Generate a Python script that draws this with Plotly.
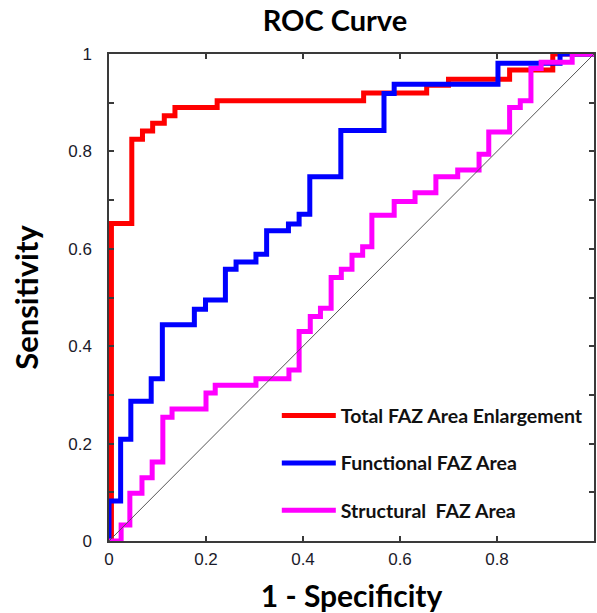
import plotly.graph_objects as go

# ---- data (step ROC curves; points are step corners) ----
total_x = [0.0, 0.005, 0.047, 0.069, 0.090, 0.114, 0.136, 0.223, 0.525, 0.655, 0.700, 0.826, 0.915, 1.0]
total_y = [0.0, 0.652, 0.825, 0.842, 0.858, 0.873, 0.890, 0.904, 0.920, 0.936, 0.948, 0.967, 1.0, 1.0]

func_x = [0.0, 0.0, 0.024, 0.045, 0.087, 0.110, 0.176, 0.199, 0.240, 0.262, 0.303, 0.325, 0.370,
          0.392, 0.414, 0.478, 0.567, 0.588, 0.802, 0.930, 1.0]
func_y = [0.0, 0.082, 0.209, 0.287, 0.333, 0.444, 0.476, 0.495, 0.558, 0.573, 0.589, 0.637, 0.651,
          0.671, 0.748, 0.843, 0.919, 0.938, 0.981, 1.0, 1.0]

struct_x = [0.0, 0.025, 0.043, 0.068, 0.089, 0.111, 0.130, 0.200, 0.219, 0.303, 0.371, 0.392, 0.415,
            0.436, 0.458, 0.479, 0.501, 0.523, 0.542, 0.588, 0.631, 0.674, 0.719, 0.763, 0.783,
            0.826, 0.848, 0.870, 0.891, 0.955, 1.0]
struct_y = [0.0, 0.033, 0.098, 0.130, 0.162, 0.254, 0.271, 0.304, 0.320, 0.333, 0.351, 0.430, 0.461,
            0.478, 0.541, 0.558, 0.587, 0.604, 0.669, 0.697, 0.715, 0.748, 0.762, 0.794, 0.840,
            0.890, 0.904, 0.970, 0.983, 1.0, 1.0]

ref_x = [0.0, 1.0]
ref_y = [0.0, 1.0]

series_names = ["Total FAZ Area Enlargement", "Functional FAZ Area", "Structural  FAZ Area"]
tick_vals = [0, 0.2, 0.4, 0.6, 0.8, 1]
tick_text = ["0", "0.2", "0.4", "0.6", "0.8", "1"]

fig = go.Figure()
for xs, ys, name, col in [(total_x, total_y, series_names[0], "#ff0000"),
                          (func_x, func_y, series_names[1], "#0000ff"),
                          (struct_x, struct_y, series_names[2], "#ff00ff")]:
    fig.add_trace(go.Scatter(x=xs, y=ys, mode="lines", name=name, legendgroup=name,
                             line=dict(color=col, width=5, shape="hv")))
fig.add_trace(go.Scatter(x=ref_x, y=ref_y, mode="lines", showlegend=False,
                         line=dict(color="#555555", width=1)))

axis_common = dict(range=[0, 1], showgrid=False, zeroline=False, showline=True,
                   linecolor="#3a3a3a", linewidth=1.5, mirror="ticks", ticks="inside",
                   ticklen=5, tickcolor="#3a3a3a", tickwidth=1.5,
                   tickvals=tick_vals, ticktext=tick_text,
                   tickfont=dict(family="Liberation Sans", size=17, color="#1a1a2a"))

fig.update_xaxes(**axis_common, ticklabelstandoff=2,
                 title=dict(text="1 - Specificity", standoff=20,
                            font=dict(family="Lato", size=30, weight="bold", color="black")))
fig.update_yaxes(**axis_common, ticklabelstandoff=12,
                 minor=dict(ticks="inside", dtick=0.1, tick0=0, ticklen=5, tickcolor="#3a3a3a", tickwidth=1.5),
                 title=dict(text="Sensitivity", standoff=20,
                            font=dict(family="Lato", size=31, weight="bold", color="black")))

fig.update_layout(
    width=597, height=613,
    margin=dict(l=109, r=1, t=54, b=72),
    plot_bgcolor="white", paper_bgcolor="white",
    title=dict(text="ROC Curve", x=0.561, xanchor="center", xref="container",
               y=0.966, yanchor="middle", yref="container",
               font=dict(family="Lato", size=29, weight="bold", color="black")),
    legend=dict(x=0.346, xanchor="left", y=0.297, yanchor="top",
                bgcolor="rgba(0,0,0,0)", borderwidth=0, tracegroupgap=19,
                itemwidth=54,
                font=dict(family="Lato", size=19.5, weight="bold", color="#111111")),
)

fig.write_html("out.html")
